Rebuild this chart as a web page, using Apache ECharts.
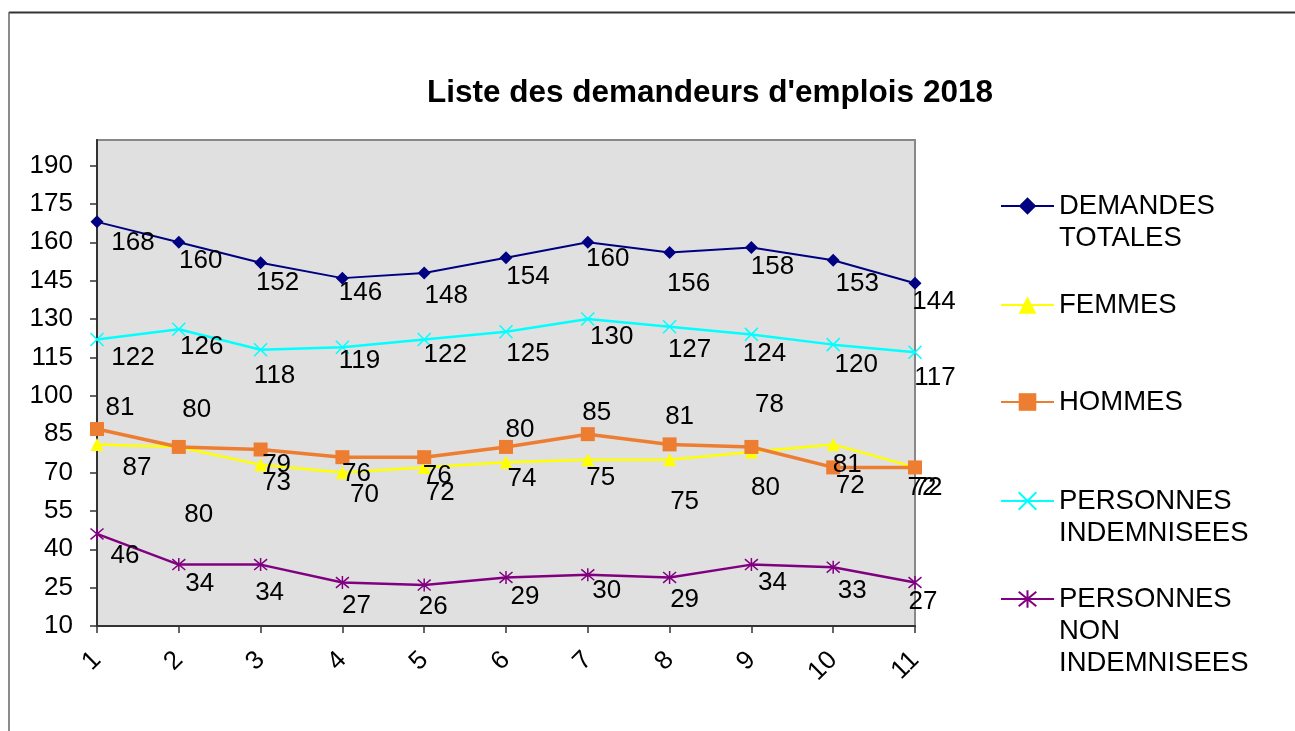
<!DOCTYPE html>
<html><head><meta charset="utf-8">
<script src="https://cdn.jsdelivr.net/npm/echarts@6/dist/echarts.min.js"></script>
<style>html,body{margin:0;padding:0;background:#fff}#c{width:1295px;height:731px}</style>
</head><body><div id="c"></div>
<script>
// ---- data ----
const categories = ['1','2','3','4','5','6','7','8','9','10','11'];
const yTicks = [10,25,40,55,70,85,100,115,130,145,160,175,190];
const demandesTotales = [168,160,152,146,148,154,160,156,158,153,144];
const femmes = [81,80,73,70,72,74,75,75,78,81,72];
const hommes = [87,80,79,76,76,80,85,81,80,72,72];
const personnesIndemnisees = [122,126,118,119,122,125,130,127,124,120,117];
const personnesNonIndemnisees = [46,34,34,27,26,29,30,29,34,33,27];
const seriesNames = ['DEMANDES TOTALES','FEMMES','HOMMES','PERSONNES INDEMNISEES','PERSONNES NON INDEMNISEES'];
const legendLines = [['DEMANDES','TOTALES'],['FEMMES'],['HOMMES'],['PERSONNES','INDEMNISEES'],['PERSONNES','NON','INDEMNISEES']];
const title = "Liste des demandeurs d'emplois 2018";

// ---- label placement (style, px offsets from marker) ----
const lblDem = {dx:[36,22,17,18,22,22,20,19,21,24,19], dy:[21,19,20,15,23,19,17,31,19,24,19]};
const lblFem = {dx:[23,18,16,22,16,16,13,15,18,14,7], dy:[-37,-37,18,22,25,17,18,42,-47,20,20]};
const lblHom = {dx:[40,20,16,14,13,14,9,10,14,17,13], dy:[39,68,15,17,19,-17,-21,-28,41,18,20]};
const lblInd = {dx:[36,23,14,17,21,22,24,20,13,23,20], dy:[18,18,26,14,15,22,18,23,19,20,26]};
const lblNon = {dx:[28,21,9,14,9,19,19,15,21,19,8], dy:[22,19,28,23,22,19,16,22,18,24,19]};

const FONT = 'Liberation Sans, Arial, sans-serif';
function withLabels(values, lbl){
  return values.map((v,i)=>({value:v, label:{offset:[lbl.dx[i], lbl.dy[i]]}}));
}
const baseLabel = {show:true, position:'inside', fontSize:26, color:'#000', fontFamily:FONT};

function mkSeries(name, values, lbl, color, symbol, size, lw, extraItem){
  return {
    name, type:'line', data:withLabels(values,lbl), color,
    symbol, symbolSize:size, showAllSymbol:true,
    lineStyle:{color, width:lw},
    itemStyle:Object.assign({color}, extraItem||{}),
    label:baseLabel, emphasis:{disabled:true}, silent:true
  };
}
const series = [
  mkSeries(seriesNames[0], demandesTotales, lblDem, '#000080', 'diamond', 13, 2),
  mkSeries(seriesNames[1], femmes, lblFem, '#ffff00', 'triangle', 13, 2.5),
  mkSeries(seriesNames[2], hommes, lblHom, '#ed7d31', 'rect', 14, 3.5),
  mkSeries(seriesNames[3], personnesIndemnisees, lblInd, '#00ffff', 'path://M0 0L10 10M10 0L0 10', 13, 2.5,
    {color:'rgba(0,0,0,0)', borderColor:'#00ffff', borderWidth:1.5}),
  mkSeries(seriesNames[4], personnesNonIndemnisees, lblNon, '#800080', 'path://M0 0L10 10M10 0L0 10M5 -1L5 11', 13, 2.5,
    {color:'rgba(0,0,0,0)', borderColor:'#800080', borderWidth:1.5})
];

const LH = 32;
const legendCenters = [206, 305, 402, 501, 599];
const legends = seriesNames.map((n,i)=>{
  const k = legendLines[i].length;
  return {
    data:[n], orient:'vertical', left:1000, top: legendCenters[i] - (2*k-1)*LH/2,
    padding:0, itemGap:0, itemWidth:53, itemHeight:22, selectedMode:false,
    formatter:()=>'\n'.repeat(k-1) + legendLines[i].join('\n'),
    textStyle:{fontSize:27.5, color:'#000', fontFamily:FONT, lineHeight:LH}
  };
});

const chart = echarts.init(document.getElementById('c'), null, {renderer:'canvas'});
chart.setOption({
  animation:false,
  backgroundColor:'#fff',
  textStyle:{fontFamily:FONT},
  title:{text:title, left:427, top:77, padding:0,
    textStyle:{fontSize:31.5, fontWeight:'bold', color:'#000', fontFamily:FONT}},
  legend:legends,
  grid:{left:97, top:140, width:818, height:486, show:true, backgroundColor:'#e0e0e0',
    borderColor:'#888', borderWidth:2, containLabel:false, outerBoundsMode:'none'},
  xAxis:{type:'category', data:categories, boundaryGap:false,
    axisLine:{lineStyle:{color:'#333', width:2}},
    axisTick:{show:true, length:7, lineStyle:{color:'#333', width:1.5}},
    axisLabel:{rotate:45, fontSize:26, color:'#000', margin:30, fontFamily:FONT},
    splitLine:{show:false}},
  yAxis:{type:'value', min:10, max:200, interval:15,
    axisLine:{show:true, lineStyle:{color:'#333', width:2}},
    axisTick:{show:true, length:7, customValues:yTicks, lineStyle:{color:'#333', width:1.5}},
    axisLabel:{customValues:yTicks, fontSize:26, color:'#000', margin:24, fontFamily:FONT},
    splitLine:{show:false}},
  graphic:[
    {type:'line', shape:{x1:9, y1:12.5, x2:1295, y2:12.5}, style:{stroke:'#333', lineWidth:2}, silent:true},
    {type:'line', shape:{x1:9, y1:12, x2:9, y2:731}, style:{stroke:'#666', lineWidth:1.5}, silent:true}
  ],
  series
});
</script>
</body></html>
